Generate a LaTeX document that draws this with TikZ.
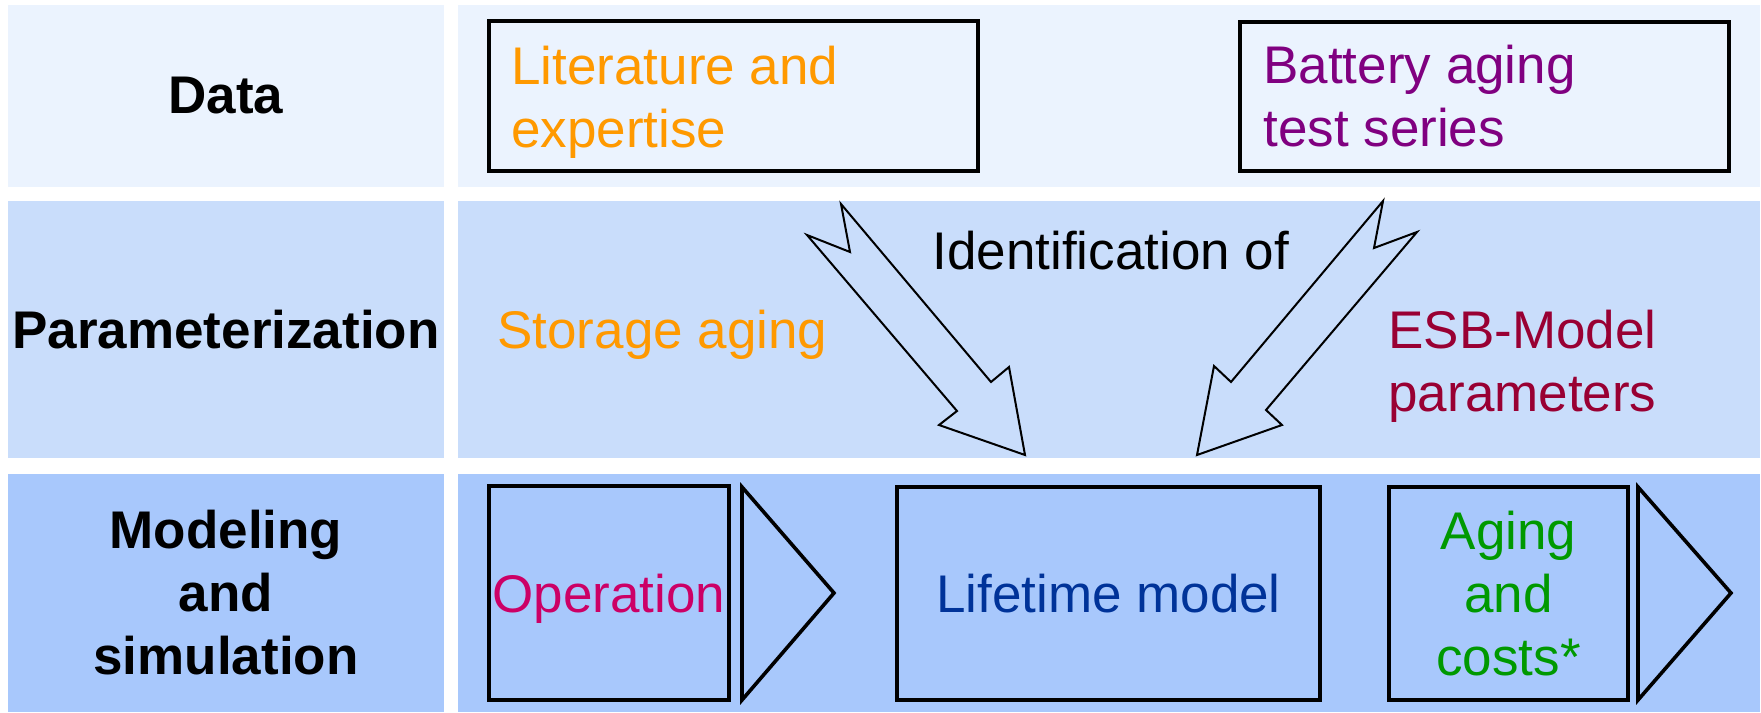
\documentclass[tikz,border=0pt]{standalone}
\usepackage{fontspec}
\setmainfont{Liberation Sans}
\definecolor{rowdata}{HTML}{EBF3FE}
\definecolor{rowparam}{HTML}{C9DDFB}
\definecolor{rowmodel}{HTML}{A8C8FC}
\definecolor{litorange}{HTML}{FF9900}
\definecolor{batpurple}{HTML}{800080}
\definecolor{esbred}{HTML}{990033}
\definecolor{opmagenta}{HTML}{CC0066}
\definecolor{lifeblue}{HTML}{003399}
\definecolor{agegreen}{HTML}{009900}

\begin{document}
\begin{tikzpicture}[x=0.5pt, y=-0.5pt, font=\fontsize{26.5}{31.5}\selectfont]
	\tikzset{cell/.style = {inner sep=0pt, align=center, font=\fontsize{26.5}{31.5}\selectfont\bfseries}}
	\tikzset{box/.style = {draw, line width=2pt, inner sep=0pt, align=center, text depth=0pt}}
	\tikzset{note/.style = {inner sep=0pt, anchor=north west, align=left}}
	\tikzset{chevron/.style = {draw, line width=1.8pt, fill=rowmodel}}
	\tikzset{bigarrow/.style = {draw, line width=1pt, fill=rowparam}}
	\useasboundingbox (0,0) rectangle (1761,712);
	% rows
	\node[cell, fill=rowdata, minimum width=218pt, minimum height=91pt] (data) at (226,96) {Data};
	\node[cell, fill=rowdata, minimum width=651pt, minimum height=91pt] (datapane) at (1109,96) {};
	\node[cell, fill=rowparam, minimum width=218pt, minimum height=128.5pt] (param) at (226,329.5) {Parameterization};
	\node[cell, fill=rowparam, minimum width=651pt, minimum height=128.5pt] (parampane) at (1109,329.5) {};
	\node[cell, fill=rowmodel, minimum width=218pt, minimum height=119pt] (model) at (226,593) {Modeling\\and\\simulation};
	\node[cell, fill=rowmodel, minimum width=651pt, minimum height=119pt] (modelpane) at (1109,593) {};
	% data sources
	\node[box, minimum width=244.5pt, minimum height=75pt] (lit) at (733.5,96) {};
	\node[box, minimum width=244.5pt, minimum height=74.5pt] (bat) at (1484.5,96.5) {};
	\node[note, text=litorange] (littext) at (511,46) {Literature and\\expertise};
	\node[note, text=batpurple] (battext) at (1263,45) {Battery aging\\test series};
	% parameterization
	\draw[bigarrow] (841,204) -- (991,382) -- (1009,367) -- (1025,455) -- (939,425) -- (957,411) -- (807,235) -- (850,252) -- cycle;
	\draw[bigarrow] (1383,201) -- (1231,382) -- (1214,366) -- (1197,455) -- (1282,425) -- (1266,410) -- (1417,232) -- (1374,248) -- cycle;
	\node[note, text=litorange] (storage) at (497,310) {Storage aging};
	\node[note] (ident) at (932,231) {Identification of};
	\node[note, text=esbred] (esb) at (1388,310) {ESB-Model\\parameters};
	% modeling chain
	\node[box, text=opmagenta, minimum width=120pt, minimum height=107pt] (op) at (609,593) {Operation};
	\draw[chevron] (742,487) -- (834,593) -- (742,700) -- cycle;
	\node[box, text=lifeblue, minimum width=211.5pt, minimum height=106.5pt] (life) at (1108.5,593.5) {Lifetime model};
	\node[box, text=agegreen, minimum width=119.5pt, minimum height=106.5pt] (aging) at (1508.5,593.5) {Aging\\and\\costs*};
	\draw[chevron] (1638,487) -- (1731,593) -- (1638,700) -- cycle;
\end{tikzpicture}
\end{document}
